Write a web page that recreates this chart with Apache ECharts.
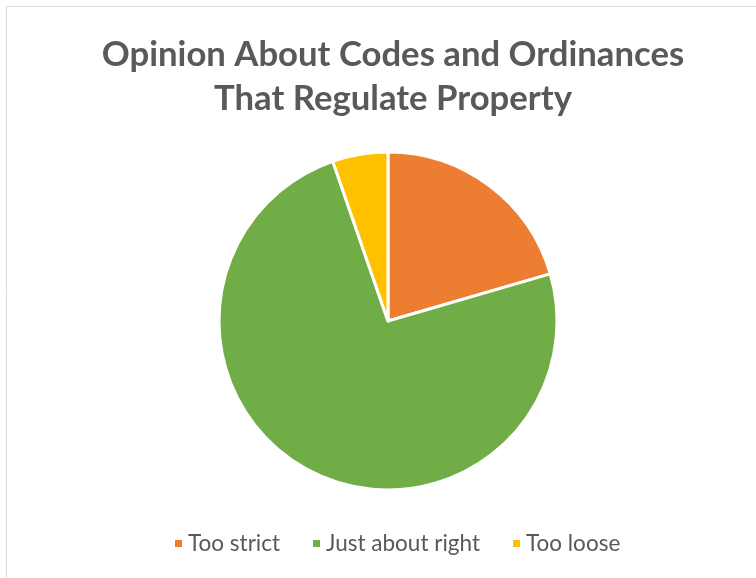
<!DOCTYPE html>
<html>
<head>
<meta charset="utf-8">
<script src="https://cdn.jsdelivr.net/npm/echarts@6/dist/echarts.min.js"></script>
<style>
  html, body { margin: 0; padding: 0; background: #fff; }
  #chart { width: 756px; height: 578px; }
</style>
</head>
<body>
<div id="chart"></div>
<script>
// Survey categories and their share of responses (%)
const categories = ['Too strict', 'Just about right', 'Too loose'];
const shares = [20.5, 74.2, 5.3];
const colors = ['#ED7D31', '#70AD47', '#FFC000'];

const chart = echarts.init(document.getElementById('chart'));

chart.setOption({
  backgroundColor: '#ffffff',
  animation: false,
  title: {
    text: 'Opinion About Codes and Ordinances\nThat Regulate Property',
    left: 388,
    top: 28,
    textAlign: 'center',
    textStyle: {
      fontFamily: 'Lato',
      fontWeight: 'bold',
      fontSize: 34.7,
      lineHeight: 44,
      color: '#595959'
    }
  },
  legend: {
    bottom: 18,
    left: 168,
    icon: 'rect',
    itemWidth: 9,
    itemHeight: 9,
    itemGap: 31,
    data: categories,
    textStyle: { fontFamily: 'Lato', fontSize: 22.5, color: '#595959' }
  },
  graphic: [{
    type: 'rect',
    shape: { x: 6.5, y: 6.5, width: 800, height: 620 },
    style: { fill: 'none', stroke: '#d9d9d9', lineWidth: 1 },
    silent: true
  }],
  series: [{
    type: 'pie',
    center: [388, 321],
    radius: 169,
    startAngle: 90,
    clockwise: true,
    label: { show: false },
    labelLine: { show: false },
    itemStyle: { borderColor: '#ffffff', borderWidth: 3 },
    data: categories.map((name, i) => ({
      name,
      value: shares[i],
      itemStyle: { color: colors[i] }
    }))
  }]
});
</script>
</body>
</html>
